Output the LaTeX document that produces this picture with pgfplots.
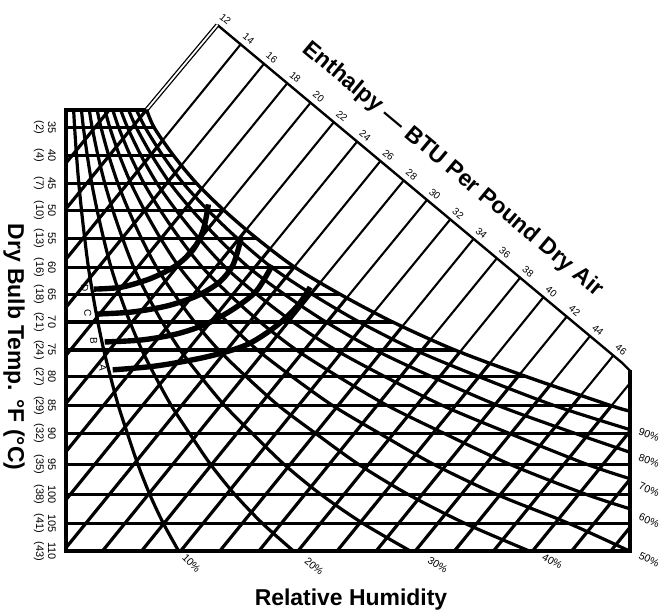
\documentclass[border=0pt]{standalone}
\usepackage{fontspec}
\setmainfont{Liberation Sans}
\usepackage{pgfplots}
\pgfplotsset{compat=1.18}
\tikzset{
 grd/.style={black,line width=3.2pt},
 thn/.style={black,line width=2.1pt},
 rh/.style={black,line width=3.2pt,smooth},
 frm/.style={black,line width=3.8pt,line join=miter},
 arc/.style={black,line width=5.4pt,smooth},
 tk/.style={font=\fontsize{11}{11}\selectfont,rotate=-90},
 ek/.style={font=\fontsize{10}{10}\selectfont,rotate=-40},
 pk/.style={font=\fontsize{10.5}{10.5}\selectfont},
 lb/.style={font=\fontsize{10}{10}\selectfont,rotate=-90},
}
\begin{document}
\begin{tikzpicture}
\begin{axis}[width=670pt,height=611pt,scale only axis,xmin=0,xmax=670,ymin=0,ymax=611,
 y dir=reverse,hide axis,clip=false]
\addplot[draw=none] coordinates {(0,0)(670,611)};
% ---- frame
\addplot[frm] coordinates {(145,110)(64,110)(64,553)(630,553)(630,371)};
\addplot[thn,line width=2.4pt] coordinates {(216,25)(622,364)(630,372)};
\addplot[black,double,double distance=1.8pt,line width=1.3pt] coordinates {(216,25)(145,110)};
% ---- dry bulb lines
\addplot[grd] coordinates {(64,128)(152.6,128)};
\addplot[grd] coordinates {(64,156)(172,156)};
\addplot[grd] coordinates {(64,184)(195.2,184)};
\addplot[grd] coordinates {(64,211)(222.7,211)};
\addplot[grd] coordinates {(64,239)(255.3,239)};
\addplot[grd] coordinates {(64,268)(293.6,268)};
\addplot[grd] coordinates {(64,295)(338.8,295)};
\addplot[grd] coordinates {(64,323)(391.9,323)};
\addplot[grd] coordinates {(64,351)(454,351)};
\addplot[grd] coordinates {(64,378)(526.6,378)};
\addplot[grd] coordinates {(64,407)(611.2,407)};
\addplot[grd] coordinates {(64,435)(630,435)};
\addplot[grd] coordinates {(64,466)(630,466)};
\addplot[grd] coordinates {(64,496)(630,496)};
\addplot[grd] coordinates {(64,525)(630,525)};
% ---- enthalpy lines above saturation
\addplot[thn] coordinates {(239.35,44.52)(161.3,140.5)};
\addplot[thn] coordinates {(262.7,64.04)(180,165.7)};
\addplot[thn] coordinates {(286.05,83.56)(200.3,189)};
\addplot[thn] coordinates {(309.4,103.08)(222,210.5)};
\addplot[thn] coordinates {(332.75,122.6)(245,230.3)};
\addplot[thn] coordinates {(356.1,142.12)(269,249.3)};
\addplot[thn] coordinates {(379.45,161.64)(293.2,267.7)};
\addplot[thn] coordinates {(402.8,181.16)(319,283.5)};
\addplot[thn] coordinates {(426.15,200.68)(345.5,299)};
\addplot[thn] coordinates {(449.5,220.2)(373,313.4)};
\addplot[thn] coordinates {(472.85,239.72)(401.6,327.3)};
\addplot[thn] coordinates {(496.2,259.24)(430,340.3)};
\addplot[thn] coordinates {(519.55,278.76)(459.3,353)};
\addplot[thn] coordinates {(542.9,298.28)(489.5,364.2)};
\addplot[thn] coordinates {(566.25,317.8)(519.4,375.3)};
\addplot[thn] coordinates {(589.6,337.32)(550,386)};
\addplot[thn] coordinates {(612.95,356.84)(580.5,396.6)};
\addplot[thn] coordinates {(630,384.1)(611.3,407)};
% ---- enthalpy (wet bulb) lines in the grid
\addplot[grd] coordinates {(107.7,110)(64,163.7)};
\addplot[grd] coordinates {(145,110)(64,209.6)};
\addplot[grd] coordinates {(161.3,140.5)(64,260.2)};
\addplot[grd] coordinates {(180,165.7)(64,308.4)};
\addplot[grd] coordinates {(200.3,189)(64,356.7)};
\addplot[grd] coordinates {(222,210.5)(64,404.9)};
\addplot[grd] coordinates {(245,230.3)(64,453.2)};
\addplot[grd] coordinates {(269,249.3)(64,501.4)};
\addplot[grd] coordinates {(293.2,267.7)(64,549.6)};
\addplot[grd] coordinates {(319,283.5)(100.5,553)};
\addplot[grd] coordinates {(345.5,299)(139.7,553)};
\addplot[grd] coordinates {(373,313.4)(178.9,553)};
\addplot[grd] coordinates {(401.6,327.3)(218.15,553)};
\addplot[grd] coordinates {(430,340.3)(257.4,553)};
\addplot[grd] coordinates {(459.3,353)(296.6,553)};
\addplot[grd] coordinates {(489.5,364.2)(335.8,553)};
\addplot[grd] coordinates {(519.4,375.3)(375,553)};
\addplot[grd] coordinates {(550,386)(414.25,553)};
\addplot[grd] coordinates {(580.5,396.6)(453.5,553)};
\addplot[grd] coordinates {(611.3,407)(492.7,553)};
\addplot[grd] coordinates {(630,432.3)(531.9,553)};
\addplot[grd] coordinates {(630,480.6)(571.1,553)};
\addplot[grd] coordinates {(630,528.8)(610.35,553)};
% ---- relative humidity curves
\addplot[rh] coordinates {(71.8,110)(72.8,128)(74.7,156)(77.0,184)(79.7,211)(82.9,239)(86.6,268)(91.0,295)(96.1,323)(102.0,351)(108.8,378)(116.7,407)(125.8,435)(136.3,466)(148.2,496)(161.8,525)(177.3,553)};
\addplot[rh] coordinates {(79.6,110)(81.6,128)(85.5,156)(90.0,184)(95.4,211)(101.8,239)(109.3,268)(118.0,295)(128.3,323)(140.2,351)(153.9,378)(169.9,407)(188.2,435)(209.3,466)(233.5,496)(261.2,525)(292.7,553)};
\addplot[rh] coordinates {(87.5,110)(90.4,128)(96.2,156)(103.1,184)(111.2,211)(120.8,239)(132.0,268)(145.2,295)(160.7,323)(178.6,351)(199.4,378)(223.5,407)(251.2,435)(283.2,466)(319.9,496)(362.0,525)(410.1,553)};
\addplot[rh] coordinates {(95.3,110)(99.3,128)(107.0,156)(116.2,184)(127.0,211)(139.8,239)(154.9,268)(172.6,295)(193.2,323)(217.2,351)(245.1,378)(277.5,407)(314.9,435)(358.0,466)(407.5,496)(464.4,525)(529.6,553)};
\addplot[rh] coordinates {(103.2,110)(108.1,128)(117.8,156)(129.3,184)(142.9,211)(158.9,239)(177.8,268)(200.0,295)(225.9,323)(256.1,351)(291.2,378)(332.0,407)(379.1,435)(433.5,466)(496.3,496)(568.5,525)(630,553)};
\addplot[rh] coordinates {(111.0,110)(117.0,128)(128.6,156)(142.4,184)(158.8,211)(178.1,239)(200.8,268)(227.5,295)(258.8,323)(295.2,351)(337.6,378)(386.9,407)(444.0,435)(510.0,466)(586.2,496)(630,510.4)};
\addplot[rh] coordinates {(118.9,110)(125.9,128)(139.4,156)(155.5,184)(174.7,211)(197.3,239)(223.9,268)(255.2,295)(291.8,323)(334.5,351)(384.4,378)(442.3,407)(509.5,435)(587.3,466)(630,480.2)};
\addplot[rh] coordinates {(126.8,110)(134.7,128)(150.3,156)(168.7,184)(190.7,211)(216.6,239)(247.1,268)(282.9,295)(325.0,323)(374.1,351)(431.4,378)(498.1,407)(575.6,435)(630,453.7)};
\addplot[rh] coordinates {(134.7,110)(143.6,128)(161.2,156)(181.9,184)(206.7,211)(235.9,239)(270.3,268)(310.8,295)(358.4,323)(413.9,351)(478.8,378)(554.5,407)(630,431)};
% saturation
\addplot[rh,line width=3.4pt] coordinates {(145,110)(152.6,128)(172.0,156)(195.2,184)(222.7,211)(255.3,239)(293.6,268)(338.8,295)(391.9,323)(454.0,351)(526.6,378)(611.2,407)(630,412.3)};
% ---- A-D arcs
\addplot[arc] coordinates {(92,290)(120,288)(150,279)(175,266)(192,250)(202,230)(207,205)};
\addplot[arc] coordinates {(95,315)(130,313)(165,307)(195,297)(218,283)(232,265)(240,238)};
\addplot[arc] coordinates {(103,343)(140,341)(175,335)(205,325)(232,310)(255,292)(271,266)};
\addplot[arc] coordinates {(111,371)(155,367)(205,358)(245,346)(275,327)(297,306)(309,288)};
\node[lb] at (axis cs:83,289) {D};
\node[lb] at (axis cs:86,314) {C};
\node[lb] at (axis cs:92,342) {B};
\node[lb] at (axis cs:101,369) {A};
% ---- dry bulb tick labels
\node[tk] at (axis cs:50,128) {35}; \node[tk] at (axis cs:37,128) {(2)};
\node[tk] at (axis cs:50,156) {40}; \node[tk] at (axis cs:37,156) {(4)};
\node[tk] at (axis cs:50,184) {45}; \node[tk] at (axis cs:37,184) {(7)};
\node[tk] at (axis cs:50,211) {50}; \node[tk] at (axis cs:37,211) {(10)};
\node[tk] at (axis cs:50,239) {55}; \node[tk] at (axis cs:37,239) {(13)};
\node[tk] at (axis cs:50,268) {60}; \node[tk] at (axis cs:37,268) {(16)};
\node[tk] at (axis cs:50,295) {65}; \node[tk] at (axis cs:37,295) {(18)};
\node[tk] at (axis cs:50,323) {70}; \node[tk] at (axis cs:37,323) {(21)};
\node[tk] at (axis cs:50,351) {75}; \node[tk] at (axis cs:37,351) {(24)};
\node[tk] at (axis cs:50,378) {80}; \node[tk] at (axis cs:37,378) {(27)};
\node[tk] at (axis cs:50,407) {85}; \node[tk] at (axis cs:37,407) {(29)};
\node[tk] at (axis cs:50,435) {90}; \node[tk] at (axis cs:37,435) {(32)};
\node[tk] at (axis cs:50,466) {95}; \node[tk] at (axis cs:37,466) {(35)};
\node[tk] at (axis cs:50,496) {100}; \node[tk] at (axis cs:37,496) {(38)};
\node[tk] at (axis cs:50,525) {105}; \node[tk] at (axis cs:37,525) {(41)};
\node[tk] at (axis cs:50,553) {110}; \node[tk] at (axis cs:37,553) {(43)};
\node[font=\fontsize{23}{23}\selectfont\bfseries,rotate=-90] at (axis cs:12,348) {Dry Bulb Temp. °F (°C)};
% ---- enthalpy labels
\node[ek] at (axis cs:224,19) {12};
\node[ek] at (axis cs:247.35,38.52) {14};
\node[ek] at (axis cs:270.7,58.04) {16};
\node[ek] at (axis cs:294.05,77.56) {18};
\node[ek] at (axis cs:317.4,97.08) {20};
\node[ek] at (axis cs:340.75,116.6) {22};
\node[ek] at (axis cs:364.1,136.12) {24};
\node[ek] at (axis cs:387.45,155.64) {26};
\node[ek] at (axis cs:410.8,175.16) {28};
\node[ek] at (axis cs:434.15,194.68) {30};
\node[ek] at (axis cs:457.5,214.2) {32};
\node[ek] at (axis cs:480.85,233.72) {34};
\node[ek] at (axis cs:504.2,253.24) {36};
\node[ek] at (axis cs:527.55,272.76) {38};
\node[ek] at (axis cs:550.9,292.28) {40};
\node[ek] at (axis cs:574.25,311.8) {42};
\node[ek] at (axis cs:597.6,331.32) {44};
\node[ek] at (axis cs:620.95,350.84) {46};
\node[font=\fontsize{23}{23}\selectfont\bfseries,rotate=-39.9] at (axis cs:452,170) {Enthalpy — BTU Per Pound Dry Air};
% ---- RH labels
\node[pk,rotate=-45] at (axis cs:190,565) {10\%};
\node[pk,rotate=-40] at (axis cs:313,568) {20\%};
\node[pk,rotate=-32] at (axis cs:437,567) {30\%};
\node[pk,rotate=-30] at (axis cs:552,563) {40\%};
\node[pk,rotate=-25] at (axis cs:649,561) {50\%};
\node[pk,rotate=-22] at (axis cs:649,522) {60\%};
\node[pk,rotate=-22] at (axis cs:649,491) {70\%};
\node[pk,rotate=-20] at (axis cs:649,462) {80\%};
\node[pk,rotate=-20] at (axis cs:649,436) {90\%};
\node[font=\fontsize{23}{23}\selectfont\bfseries,anchor=base] at (axis cs:350,607) {Relative Humidity};
\end{axis}
\end{tikzpicture}
\end{document}
